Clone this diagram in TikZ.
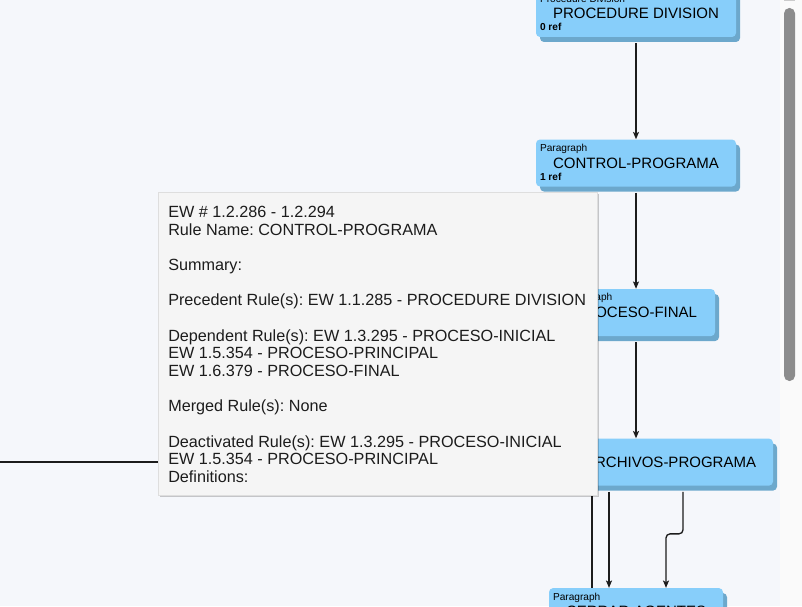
\documentclass[tikz,border=0pt]{standalone}
\usepackage{fontspec}
\setmainfont{Liberation Sans}
\frenchspacing
\usepackage{tikz}
\usetikzlibrary{arrows, positioning, arrows.meta, shadows}

\definecolor{paper}{RGB}{245,247,251}
\definecolor{track}{RGB}{250,250,250}
\definecolor{thumb}{RGB}{140,140,140}
\definecolor{nodeblue}{RGB}{135,206,250}
\definecolor{nodeshade}{RGB}{108,168,204}
\definecolor{tipfill}{RGB}{245,245,245}
\definecolor{tipline}{RGB}{222,222,222}
\definecolor{ink}{RGB}{28,28,28}

\tikzset{
  blk/.style={fill=nodeblue, rounded corners=3pt, minimum height=35.25pt, inner sep=0pt,
    font=\fontsize{11.25pt}{13pt}\selectfont,
    drop shadow={shadow xshift=3pt, shadow yshift=-3.75pt, fill=nodeshade, opacity=1}},
  tag/.style={inner sep=0pt, font=\fontsize{7.6pt}{9pt}\selectfont},
  kind/.style={label={[tag, anchor=north west, xshift=3pt, yshift=-3.5pt]north west:#1}},
  refs/.style={label={[tag, font=\fontsize{7.6pt}{9pt}\selectfont\bfseries, anchor=south west, xshift=3pt, yshift=4.5pt]south west:#1}},
  ruletxt/.style={inner sep=0pt, font=\fontsize{11.25pt}{13pt}\selectfont},
  link/.style={draw=ink, line width=1pt},
  tooltip/.style={draw=tipline, fill=tipfill, line width=0.6pt, inner sep=0pt,
    minimum width=329.25pt, minimum height=227.25pt,
    drop shadow={shadow xshift=1.5pt, shadow yshift=-1.5pt, fill=black, opacity=.2}},
  tiptext/.style={align=left, inner sep=0pt, text=ink,
    font=\fontsize{12.15pt}{13.25pt}\selectfont}
}

\begin{document}
\begin{tikzpicture}[x=0.75pt, y=-0.75pt, node distance=76.5pt, >={Stealth[length=5.5pt, width=4.5pt, inset=1.2pt]}]

    \useasboundingbox (0,0) rectangle (802,606);
    \clip (0,0) rectangle (802,606);
    \fill[paper] (0,0) rectangle (802,606);

    % Scroll bar
    \fill[track] (780,0) rectangle (802,606);
    \fill[thumb!45] (784,0) rectangle (795,1.5);
    \fill[thumb, rounded corners=4pt] (784,8) rectangle (795,381);

    % Nodes
    \node (procdiv) [blk, minimum width=150pt, kind=Procedure Division, refs=0 ref] at (636,13.5) {PROCEDURE DIVISION};
    \node [below=of procdiv] (ctrlprog) [blk, minimum width=150pt, kind=Paragraph, refs=1 ref] {CONTROL-PROGRAMA};
    \node [below=of ctrlprog] (procfin) [blk, minimum width=118.5pt] {};
    \node [below=of procfin] (archivos) [blk, minimum width=205.5pt] {};
    \node [below=of archivos] (cerrar) [blk, minimum width=130.5pt, kind=Paragraph] {CERRAR-AGENTES};

    % Parts left uncovered by the tooltip
    \node [tag, anchor=base east] at ([xshift=-17.6pt, yshift=-9pt]procfin.north) {aph};
    \node [ruletxt, anchor=east] at ([xshift=-13.5pt]procfin.east) {OCESO-FINAL};
    \node [ruletxt, anchor=east] at ([xshift=-12.75pt]archivos.east) {RCHIVOS-PROGRAMA};

    % Arrows
    \draw[link, ->] ([yshift=-4.5pt]procdiv.south) -- (ctrlprog);
    \draw[link, ->] ([yshift=-4.5pt]ctrlprog.south) -- (procfin);
    \draw[link, ->] ([yshift=-4.5pt]procfin.south) -- (archivos);
    \draw[link, ->] ([xshift=-20.25pt, yshift=-4.5pt]archivos.south) -- ([xshift=-20.25pt]cerrar.north);
    \draw[link, ->, rounded corners=3pt] ([xshift=35.25pt, yshift=-4.5pt]archivos.south) -- ++(0,42) -| ([xshift=22.5pt]cerrar.north);
    \draw[link, line width=1.6pt] ([xshift=-33pt]archivos.south) -- ([xshift=-33pt]cerrar.north);

    \coordinate (offleft) at (-2,0);
    \draw[link] (archivos.west -| offleft) -- (archivos.west);

    % Tooltip
    \node (tip) [tooltip, anchor=north west] at (158,192) {};
    \node (tipbody) [tiptext, anchor=north west] at (168,206) {EW \# 1.2.286 - 1.2.294\\
        Rule Name: CONTROL-PROGRAMA\\[13.25pt]
        Summary:\\[13.25pt]
        Precedent Rule(s): EW 1.1.285 - PROCEDURE DIVISION\\[13.25pt]
        Dependent Rule(s): EW 1.3.295 - PROCESO-INICIAL\\
        EW 1.5.354 - PROCESO-PRINCIPAL\\
        EW 1.6.379 - PROCESO-FINAL\\[13.25pt]
        Merged Rule(s): None\\[13.25pt]
        Deactivated Rule(s): EW 1.3.295 - PROCESO-INICIAL\\
        EW 1.5.354 - PROCESO-PRINCIPAL\\
        Definitions:};

\end{tikzpicture}
\end{document}
